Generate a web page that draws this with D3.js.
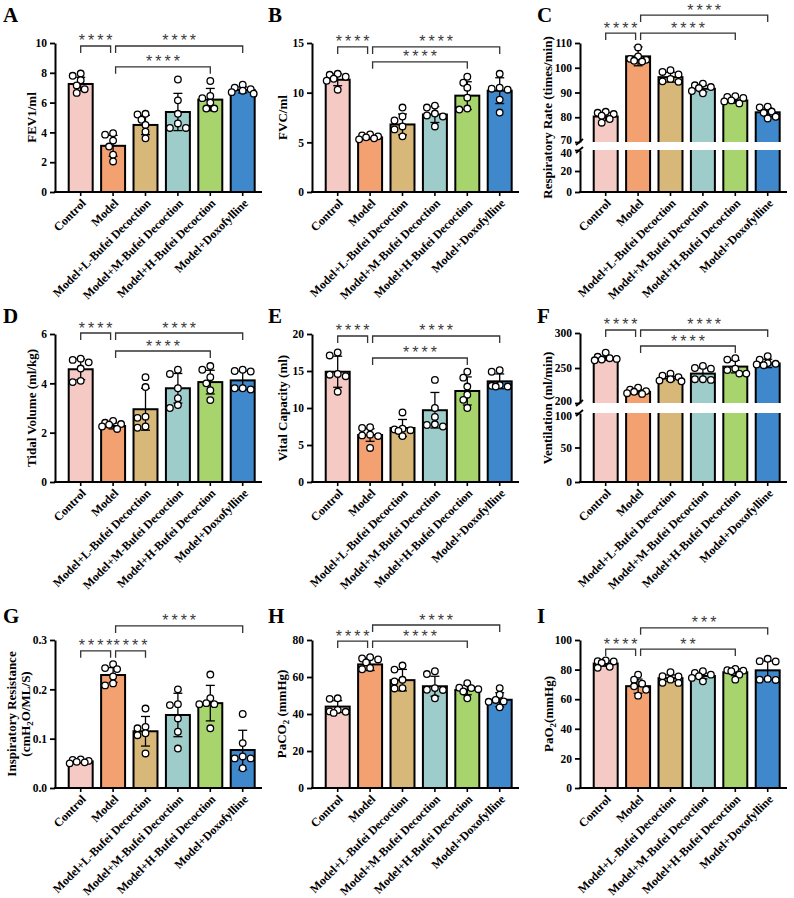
<!DOCTYPE html>
<html><head><meta charset="utf-8">
<script src="https://cdn.jsdelivr.net/npm/d3@7"></script>
<style>body{margin:0;background:#fff}svg{display:block}</style>
</head><body>
<svg id="chart" width="794" height="898"></svg>
<script>
// ---------------- DATA ----------------
const categories = ["Control","Model","Model+L-Bufei Decoction","Model+M-Bufei Decoction","Model+H-Bufei Decoction","Model+Doxofylline"];

const fev1Mean = [7.25, 3.1, 4.5, 5.37, 6.2, 6.85];
const fev1Sd = [0.45, 0.7, 0.65, 1.25, 0.75, 0.2];
const fev1Points = [[7.95,7.8,7.5,7.15,6.9,6.65],[3.95,3.85,3.45,3.05,2.5,2.05],[5.25,5.2,4.85,4.5,4.05,3.6],[7.55,6.15,5.25,4.6,4.3,4.3],[7.45,6.45,6.3,6.0,5.6,5.6],[7.2,7.0,6.9,6.8,6.7,6.6]];
const fev1Ticks = [0,2,4,6,8,10];
const fev1Sig = [[0,1,9.8,"****"],[1,5,9.8,"****"],[1,4,8.4,"****"]];

const fvcMean = [11.3, 5.5, 6.8, 7.8, 9.7, 10.2];
const fvcSd = [0.6, 0.2, 1.05, 0.8, 1.4, 1.3];
const fvcPoints = [[11.9,11.8,11.6,11.4,11.2,10.3],[5.8,5.7,5.6,5.5,5.4,5.3],[8.5,7.6,7.2,6.6,6.3,5.6],[8.7,8.5,7.9,7.7,7.6,6.6],[11.6,11.0,10.5,9.5,8.4,8.3],[11.9,10.5,10.4,10.3,9.3,8.0]];
const fvcTicks = [0,5,10,15];
const fvcSig = [[0,1,14.6,"****"],[1,5,14.6,"****"],[1,4,13.1,"****"]];

const rrMean = [80.3, 104.6, 96.2, 91.5, 86.8, 82.0];
const rrSd = [1.6, 3.8, 2.0, 1.3, 1.1, 1.8];
const rrPoints = [[82.2,81.8,81.3,80.6,79.3,77.8],[108.2,104.6,103.6,103.2,102.8,102.5],[99.0,98.3,97.3,95.5,94.5,94.3],[93.6,92.9,92.2,91.8,90.6,89.7],[88.5,88.2,87.8,86.8,86.4,85.6],[84.3,84.0,82.3,81.8,80.2,79.5]];
const rrTicksLow = [0,20,40];
const rrTicksHigh = [70,80,90,100,110];
const rrSig = [[0,1,114,"****"],[1,5,121.3,"****"],[1,4,114,"****"]];

const tvMean = [4.57, 2.27, 2.95, 3.8, 4.05, 4.12];
const tvSd = [0.42, 0.12, 0.85, 0.6, 0.48, 0.38];
const tvPoints = [[5.0,4.95,4.85,4.6,4.1,4.05],[2.48,2.4,2.35,2.32,2.25,2.15],[4.25,3.85,2.65,2.6,2.25,2.2],[4.55,4.38,3.8,3.4,3.12,3.0],[4.7,4.55,4.25,4.0,3.72,3.32],[4.55,4.5,4.48,3.8,3.8,3.75]];
const tvTicks = [0,2,4,6];
const tvSig = [[0,1,6.04,"****"],[1,5,6.04,"****"],[1,4,5.31,"****"]];

const vcMean = [14.9, 6.35, 7.3, 9.7, 12.3, 13.6];
const vcSd = [2.1, 0.85, 1.15, 2.4, 1.9, 1.0];
const vcPoints = [[17.5,17.1,14.6,14.5,14.3,12.2],[7.4,7.3,6.4,6.3,6.2,4.6],[9.4,7.2,7.1,7.0,6.9,6.2],[13.8,10.0,8.8,7.8,7.7,7.5],[14.9,14.1,12.9,11.8,11.1,10.0],[15.1,14.9,13.1,13.0,12.9,12.9]];
const vcTicks = [0,5,10,15,20];
const vcSig = [[0,1,19.73,"****"],[1,5,19.73,"****"],[1,4,16.76,"****"]];

const ventMean = [264, 216, 235, 242, 252, 256.5];
const ventSd = [3, 3, 3, 8, 9, 6];
const ventPoints = [[272,266,264,263,262,261],[222,219,217,216,214,213],[242,239,237,234,232,231],[253,250,249,234,234,233],[264,262,249,247,242,242],[267,262,257,256,255,254]];
const ventTicksLow = [0,50,100];
const ventTicksHigh = [200,250,300];
const ventSig = [[0,1,304.3,"****"],[1,5,304.3,"****"],[1,4,281.4,"****"]];

const irMean = [0.054, 0.229, 0.115, 0.148, 0.172, 0.077];
const irSd = [0.003, 0.015, 0.03, 0.044, 0.036, 0.04];
const irPoints = [[0.058,0.057,0.055,0.053,0.052,0.05],[0.251,0.243,0.241,0.226,0.212,0.208],[0.161,0.124,0.121,0.111,0.107,0.07],[0.2,0.17,0.168,0.141,0.114,0.08],[0.23,0.182,0.172,0.17,0.17,0.121],[0.15,0.091,0.064,0.06,0.06,0.04]];
const irTicks = [0,0.1,0.2,0.3];
const irSig = [[0,1,0.278,"****"],[1,2,0.278,"****"],[1,5,0.3286,"****"]];

const paco2Mean = [44, 66.8, 58.3, 55, 53, 47.7];
const paco2Sd = [3.2, 3.3, 5.8, 5.4, 2.6, 3.8];
const paco2Points = [[48.5,48.2,42.2,41.4,40.6,41.2],[70.7,70.0,69.5,67.9,64.9,64.2],[66.2,64.0,58.5,57.6,54.0,53.8],[63.1,61.6,54.0,53.1,53.0,48.5],[56.7,54.2,54.0,53.4,52.2,48.5],[54.0,50.4,47.6,46.8,46.6,43.6]];
const paco2Ticks = [0,20,40,60,80];
const paco2Sig = [[0,1,79.4,"****"],[1,5,88.1,"****"],[1,4,79.4,"****"]];

const pao2Mean = [84.1, 68.8, 74.2, 75.7, 78.2, 79.5];
const pao2Sd = [1.8, 4.8, 2.2, 2.0, 2.3, 6.3];
const pao2Points = [[86.2,85.7,85.5,84.6,81.9,81.2],[76.6,73.2,70.5,68.7,66.4,62.4],[78.2,75.5,75.4,73.2,71.0,71.1],[78.9,77.8,76.6,75.5,74.4,72.1],[80.5,79.6,79.3,78.9,76.6,73.2],[87.3,85.7,85.5,73.7,73.2,73.0]];
const pao2Ticks = [0,20,40,60,80,100];
const pao2Sig = [[0,1,93.9,"****"],[1,5,108.2,"***"],[1,4,93.9,"**"]];

// ---------------- STYLE / LAYOUT ----------------
const barColors = ["#F5C9C4","#F4A172","#D8B878","#9ECCCA","#A8D46E","#3F88CB"];
const serif = "'Times New Roman','Liberation Serif',serif";
const colX = [55, 312, 580];
const rowY = [[43,192],[334,482],[640,788]];
const letterX = [3, 268, 537];
const letterY = [22, 323, 623];

const panels = [
  {letter:"A",col:0,row:0,mean:fev1Mean,sd:fev1Sd,pts:fev1Points,sig:fev1Sig,segs:[{domain:[0,10],ticks:fev1Ticks}],title:[[["FEV1/ml"]]],tdx:[-19]},
  {letter:"B",col:1,row:0,mean:fvcMean,sd:fvcSd,pts:fvcPoints,sig:fvcSig,segs:[{domain:[0,15],ticks:fvcTicks}],title:[[["FVC/ml"]]],tdx:[-25]},
  {letter:"C",col:2,row:0,mean:rrMean,sd:rrSd,pts:rrPoints,sig:rrSig,segs:[{domain:[0,40],ticks:rrTicksLow,px:[192,150]},{domain:[70,110],ticks:rrTicksHigh,px:[142,43]}],title:[[["Respiratory Rate (times/min)"]]],tdx:[-28]},
  {letter:"D",col:0,row:1,mean:tvMean,sd:tvSd,pts:tvPoints,sig:tvSig,segs:[{domain:[0,6],ticks:tvTicks}],title:[[["Tidal Volume (ml/kg)"]]],tdx:[-19]},
  {letter:"E",col:1,row:1,mean:vcMean,sd:vcSd,pts:vcPoints,sig:vcSig,segs:[{domain:[0,20],ticks:vcTicks}],title:[[["Vital Capacity (ml)"]]],tdx:[-25]},
  {letter:"F",col:2,row:1,mean:ventMean,sd:ventSd,pts:ventPoints,sig:ventSig,segs:[{domain:[0,100],ticks:ventTicksLow,px:[482,413]},{domain:[200,300],ticks:ventTicksHigh,px:[403,333]}],title:[[["Ventilation (ml/min)"]]],tdx:[-28]},
  {letter:"G",col:0,row:2,mean:irMean,sd:irSd,pts:irPoints,sig:irSig,segs:[{domain:[0,0.3],ticks:irTicks}],fmt:d3.format(".1f"),title:[[["Inspiratory Resistance"]],[["(cmH"],["2",1],["O/ML/S)"]]],tdx:[-39,-25]},
  {letter:"H",col:1,row:2,mean:paco2Mean,sd:paco2Sd,pts:paco2Points,sig:paco2Sig,segs:[{domain:[0,80],ticks:paco2Ticks}],title:[[["PaCO"],["2",1],[" (mmHg)"]]],tdx:[-26]},
  {letter:"I",col:2,row:2,mean:pao2Mean,sd:pao2Sd,pts:pao2Points,sig:pao2Sig,segs:[{domain:[0,100],ticks:pao2Ticks}],title:[[["PaO"],["2",1],["(mmHg)"]]],tdx:[-27]}
];

const svg = d3.select("#chart");
const defs = svg.append("defs");

panels.forEach((p, pi) => {
  const x0 = colX[p.col];
  const [yt, yb] = rowY[p.row];
  const g = svg.append("g");
  const x = d3.scaleBand().domain(d3.range(categories.length))
    .range([x0 + 9.5, x0 + 203.9]).paddingInner(0.26).paddingOuter(0.13);
  const cx = i => x(i) + x.bandwidth() / 2;

  const segs = p.segs.map(s => {
    const px = s.px || [yb, yt];
    return Object.assign({}, s, {px, y: d3.scaleLinear().domain(s.domain).range(px)});
  });
  const nS = segs.length;
  const topSeg = segs[nS - 1];
  const y = topSeg.y;

  // bars (clipped per segment)
  segs.forEach((s, k) => {
    const id = `clip${pi}_${k}`;
    const cTop = k === nS - 1 ? 0 : s.px[1];
    const cBot = k === 0 ? yb + 5 : s.px[0];
    defs.append("clipPath").attr("id", id).append("rect")
      .attr("x", x0).attr("y", cTop).attr("width", 220).attr("height", cBot - cTop);
    const bg = g.append("g").attr("clip-path", `url(#${id})`);
    bg.selectAll("rect").data(p.mean).join("rect")
      .attr("x", (d, i) => x(i))
      .attr("width", x.bandwidth())
      .attr("y", d => d > s.domain[1] ? s.px[1] - 10 : s.y(d))
      .attr("height", d => {
        const t = d > s.domain[1] ? s.px[1] - 10 : s.y(d);
        const b = k === 0 ? s.px[0] : s.px[0] + 10;
        return Math.max(0, b - t);
      })
      .attr("fill", (d, i) => barColors[i])
      .attr("stroke", "#000").attr("stroke-width", 2);
  });

  // error bars
  const eg = g.append("g").attr("stroke", "#000").attr("stroke-width", 1.3).attr("fill", "none");
  p.mean.forEach((m, i) => {
    const hi = y(m + p.sd[i]), lo = y(m - p.sd[i]);
    eg.append("line").attr("x1", cx(i)).attr("x2", cx(i)).attr("y1", hi).attr("y2", lo);
    [hi, lo].forEach(v => eg.append("line").attr("x1", cx(i) - 4.5).attr("x2", cx(i) + 4.5).attr("y1", v).attr("y2", v));
  });

  // points (simple beeswarm inside each bar)
  const r = 3.3;
  const cands = [0, -4, 4, -8, 8, -11, 11];
  p.pts.forEach((arr, i) => {
    const placed = [];
    arr.slice().sort((a, b) => b - a).forEach(v => {
      const py = y(v);
      let best = 0, bestD = -1;
      for (const c of cands) {
        const dmin = placed.length ? d3.min(placed, q => Math.hypot(q[0] - c, q[1] - py)) : 99;
        if (dmin >= 6.2) { best = c; bestD = 99; break; }
        if (dmin > bestD) { bestD = dmin; best = c; }
      }
      placed.push([best, py]);
    });
    g.selectAll(null).data(placed).join("circle")
      .attr("cx", d => cx(i) + d[0]).attr("cy", d => d[1]).attr("r", r)
      .attr("fill", "#fff").attr("stroke", "#000").attr("stroke-width", 1.3);
  });

  // y axes
  segs.forEach((s, k) => {
    const ax = g.append("g").attr("transform", `translate(${x0},0)`)
      .call(d3.axisLeft(s.y).tickValues(s.ticks).tickSize(5).tickSizeOuter(0).tickPadding(3)
        .tickFormat(p.fmt || d3.format("d")));
    ax.select(".domain").attr("stroke-width", 2);
    ax.selectAll(".tick line").attr("stroke-width", 1.8);
    ax.selectAll("text").attr("font-family", serif).attr("font-weight", "bold").attr("font-size", 11.5).attr("fill", "#000");
    if (nS > 1) {
      // nudge the labels next to the break apart a little
      ax.selectAll(".tick text").attr("dy", d => {
        if (k === 1 && d === s.domain[0]) return "0.1em";
        if (k === 0 && d === s.domain[1]) return "0.55em";
        return "0.32em";
      });
    }
  });
  // break marks
  if (nS > 1) {
    [segs[1].px[0], segs[0].px[1]].forEach(v => {
      g.append("line").attr("x1", x0 - 4).attr("x2", x0 + 3).attr("y1", v + 3).attr("y2", v - 3)
        .attr("stroke", "#000").attr("stroke-width", 1.8);
    });
  }

  // x axis
  g.append("line").attr("x1", x0 - 1).attr("x2", x0 + 207).attr("y1", yb).attr("y2", yb)
    .attr("stroke", "#000").attr("stroke-width", 2);
  categories.forEach((c, i) => {
    g.append("line").attr("x1", cx(i)).attr("x2", cx(i)).attr("y1", yb).attr("y2", yb + 4)
      .attr("stroke", "#000").attr("stroke-width", 1.6);
    g.append("text").attr("transform", `translate(${cx(i) + 3},${yb + 9}) rotate(-45)`)
      .attr("text-anchor", "end").attr("dy", "0.35em")
      .attr("font-family", serif).attr("font-weight", "bold").attr("font-size", 12).text(c);
  });

  // y title
  const midY = (yt + yb) / 2;
  p.title.forEach((line, li) => {
    const t = g.append("text").attr("transform", `translate(${x0 + p.tdx[li]},${midY}) rotate(-90)`)
      .attr("text-anchor", "middle").attr("font-family", serif).attr("font-weight", "bold").attr("font-size", 13);
    line.forEach(part => {
      const ts = t.append("tspan").text(part[0]);
      if (part[1]) ts.attr("font-size", 9).attr("dy", 3);
      else if (t.selectAll("tspan").size() > 1) ts.attr("dy", -3);
    });
  });

  // significance brackets
  const sg = g.append("g");
  p.sig.forEach(([a, b, v, lab]) => {
    let xa = cx(a), xb = cx(b);
    if (a === 1) xa += 2.5;
    if (b === 1) xb -= 2.5;
    const yy = y(v);
    sg.append("path").attr("d", `M${xa},${yy + 7}V${yy}H${xb}V${yy + 7}`)
      .attr("fill", "none").attr("stroke", "#333").attr("stroke-width", 1.3);
    sg.append("text").attr("x", (xa + xb) / 2 + 1.5).attr("y", yy + 0.5)
      .attr("text-anchor", "middle").attr("font-family", "Arial,'Liberation Sans',sans-serif")
      .attr("font-size", 16).attr("letter-spacing", 3).attr("fill", "#3a3a3a").text(lab);
  });

  // panel letter
  svg.append("text").attr("x", letterX[p.col]).attr("y", letterY[p.row])
    .attr("font-family", serif).attr("font-weight", "bold").attr("font-size", 21).text(p.letter);
});
</script>
</body></html>
